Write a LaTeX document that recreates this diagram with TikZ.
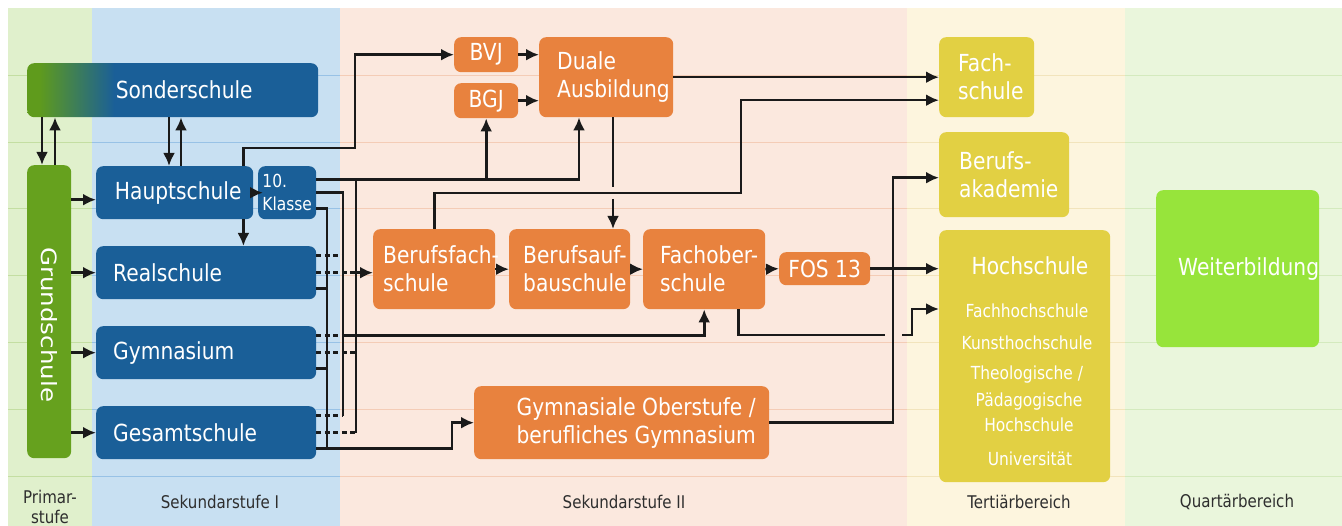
\documentclass[tikz,border=0pt]{standalone}
\usepackage{fontspec}
\usepackage{graphicx}
\setmainfont[FakeStretch=0.86]{DejaVu Sans}
\newfontfamily\plainfont{DejaVu Sans}
\usetikzlibrary{arrows.meta}
\hyphenpenalty=10000 \exhyphenpenalty=10000
\newcommand\fbig{\fontsize{23.5}{28}\selectfont}
\newcommand\fsm{\fontsize{18}{23}\selectfont}
\newcommand\flab{\fontsize{17.5}{20}\selectfont}
\definecolor{primbg}{HTML}{E0F0CC}
\definecolor{sekibg}{HTML}{C8E0F2}
\definecolor{sekiibg}{HTML}{FBE8DE}
\definecolor{tertbg}{HTML}{FDF5DE}
\definecolor{quartbg}{HTML}{EAF6DC}
\definecolor{primln}{HTML}{C4DEA2}
\definecolor{sekiln}{HTML}{98C2E6}
\definecolor{sekiiln}{HTML}{F4CCB6}
\definecolor{tertln}{HTML}{F2E4BC}
\definecolor{quartln}{HTML}{D4EABE}
\definecolor{boxblue}{HTML}{1A5F98}
\definecolor{grgreen}{HTML}{66A11E}
\definecolor{sgreen}{HTML}{5F9B1C}
\definecolor{boxor}{HTML}{E8823E}
\definecolor{boxye}{HTML}{E2D043}
\definecolor{weiter}{HTML}{97E43B}
\definecolor{lncol}{HTML}{1A1A1A}
\definecolor{labcol}{HTML}{2E2E2E}
\pgfdeclarehorizontalshading{sondershade}{100bp}{color(0bp)=(sgreen); color(27bp)=(sgreen); color(40bp)=(boxblue); color(100bp)=(boxblue)}
\begin{document}
\begin{tikzpicture}[x=1pt,y=-1pt,
  box/.style={rounded corners=7pt, inner sep=0pt, text=white, font=\fbig, anchor=north west, align=center},
  bluebox/.style={box, fill=boxblue},
  orbox/.style={box, fill=boxor},
  yebox/.style={box, fill=boxye},
  lefttext/.style 2 args={align=left, inner xsep=#1, text width=#2},
  ln/.style={draw=lncol, line width=2.6pt},
  ar/.style={ln, -{Latex[length=13pt,width=12pt]}},
  stub/.style={ln, dash pattern=on 5pt off 3.5pt},
  lab/.style={text=labcol, font=\flab, align=center, inner sep=0pt},
  hstext/.style={text=white, font=\fsm, inner sep=0pt}]
\useasboundingbox (0,0) rectangle (1342,526);
\fill[white] (0,0) rectangle (1342,526);
% columns
\fill[primbg] (8,8) rectangle (92,526);
\fill[sekibg] (92,8) rectangle (340,526);
\fill[sekiibg] (340,8) rectangle (907,526);
\fill[tertbg] (907,8) rectangle (1125,526);
\fill[quartbg] (1125,8) rectangle (1342,526);
\foreach \yy in {75,142,208,275,342,409,476}{
  \draw[primln, line width=0.8pt] (8,\yy) -- (92,\yy);
  \draw[sekiln, line width=0.8pt] (92,\yy) -- (340,\yy);
  \draw[sekiiln, line width=0.8pt] (340,\yy) -- (907,\yy);
  \draw[tertln, line width=0.8pt] (907,\yy) -- (1125,\yy);
  \draw[quartln, line width=0.8pt] (1125,\yy) -- (1342,\yy);
}
% Primar / Sek I
\node[box, shade, shading=sondershade, minimum width=291pt, minimum height=54pt] (sonder) at (27,63) {\hspace*{23pt}Sonderschule};
\node[box, fill=grgreen, minimum width=44pt, minimum height=293pt] (grund) at (27,165)
  {\rotatebox{-90}{\hspace*{26pt}\scalebox{1}[0.86]{\plainfont\fontsize{24.5}{28}\selectfont Grundschule}}};
\node[bluebox, minimum width=157pt, minimum height=53pt] (haupt) at (96,166) {\hspace*{7pt}Hauptschule};
\node[bluebox, minimum width=58pt, minimum height=53pt, font=\fsm, align=left] (klasse) at (258,166) {10.\\Klasse};
\node[bluebox, minimum width=220pt, minimum height=53pt, lefttext={17pt}{186pt}] (real) at (96,246) {Realschule};
\node[bluebox, minimum width=220pt, minimum height=53pt, lefttext={17pt}{186pt}] (gym) at (96,326) {Gymnasium};
\node[bluebox, minimum width=220pt, minimum height=53pt, lefttext={17pt}{186pt}] (gesamt) at (96,406) {Gesamtschule};
% Sek II
\node[orbox, minimum width=64pt, minimum height=35pt] (bvj) at (454,37) {BVJ};
\node[orbox, minimum width=64pt, minimum height=35pt] (bgj) at (454,83) {BGJ};
\node[orbox, minimum width=134pt, minimum height=80pt, lefttext={18pt}{98pt}] (duale) at (539,37) {Duale\\Ausbildung};
\node[orbox, minimum width=122pt, minimum height=80pt, lefttext={10pt}{102pt}] (bfs) at (373,229) {Berufsfach-\\schule};
\node[orbox, minimum width=121pt, minimum height=80pt, lefttext={14pt}{93pt}] (bas) at (509,229) {Berufsauf-\\bauschule};
\node[orbox, minimum width=122pt, minimum height=80pt, lefttext={17pt}{88pt}] (fos) at (643,229) {Fachober-\\schule};
\node[orbox, minimum width=91pt, minimum height=33pt] (fos13) at (779,252) {FOS 13};
\node[orbox, minimum width=295pt, minimum height=73pt, align=left] (gym2) at (474,386)
  {\hspace*{29pt}Gymnasiale Oberstufe /\\\hspace*{29pt}berufliches Gymnasium};
% Tertiaer
\node[yebox, minimum width=95pt, minimum height=80pt, lefttext={19pt}{57pt}] (fach) at (939,37) {Fach-\\schule};
\node[yebox, minimum width=130pt, minimum height=85pt, lefttext={20pt}{90pt}] (ba) at (939,132) {Berufs-\\akademie};
\node[yebox, minimum width=171pt, minimum height=252pt] (hoch) at (939,230) {};
\node[hstext, font=\fbig] (hT) at (1030,266) {Hochschule};
\node[hstext] (h1) at (1027,311) {Fachhochschule};
\node[hstext] (h2) at (1027,343) {Kunsthochschule};
\node[hstext] (h3) at (1027,375) {Theologische /};
\node[hstext] (h4) at (1029,402) {Pädagogische};
\node[hstext] (h5) at (1029,425) {Hochschule};
\node[hstext] (h6) at (1030,459) {Universität};
% Quartaer
\node[box, fill=weiter, minimum width=151pt, minimum height=157pt] (weiterb) at (1156,190) {\hspace*{22pt}Weiterbildung};
% labels
\node[lab] (l1) at (50,507) {Primar-\\stufe};
\node[lab] (l2) at (220,502) {Sekundarstufe I};
\node[lab] (l3) at (624,502) {Sekundarstufe II};
\node[lab] (l4) at (1019,502) {Tertiärbereich};
\node[lab] (l5) at (1237,502) {Quartärbereich};
% guide coordinates
\coordinate (X327) at (327,0);
\coordinate (X343) at (343,0);
\coordinate (X356) at (356,0);
\coordinate (X452) at (452,0);
\coordinate (X893) at (893,0);
\coordinate (X912) at (912,0);
\coordinate (ra) at ([yshift=17pt]real.east);
\coordinate (rb) at (real.east);
\coordinate (rc) at ([yshift=-16pt]real.east);
\coordinate (ga) at ([yshift=17pt]gym.east);
\coordinate (gb) at (gym.east);
\coordinate (gc) at ([yshift=-16pt]gym.east);
\coordinate (sa) at ([yshift=17pt]gesamt.east);
\coordinate (sb) at (gesamt.east);
\coordinate (sc) at ([yshift=-16pt]gesamt.east);
\coordinate (k1) at ([yshift=13pt]klasse.east);
\coordinate (k2) at (klasse.east);
\coordinate (k3) at ([yshift=-16pt]klasse.east);
\coordinate (hw) at ([yshift=-7pt]haupt.west);
\coordinate (hnorth) at ([xshift=-10pt]haupt.north east);
\coordinate (hsouth) at ([xshift=-10pt]haupt.south east);
\coordinate (jmpA) at (613,187);
\coordinate (jmpB) at (613,199);
\coordinate (jmpC) at (885,335);
\coordinate (jmpD) at (902,335);
\coordinate (hf) at ([yshift=-79pt]hoch.north west);
\coordinate (baw) at ([yshift=-3pt]ba.west);
% Sonderschule links
\draw[ar] ([xshift=15pt]sonder.south west) -- ([xshift=15pt]grund.north west);
\draw[ar] ([xshift=28pt]grund.north west) -- ([xshift=28pt]sonder.south west);
\draw[ar] ([xshift=142pt]sonder.south west) -- ([xshift=73pt]haupt.north west);
\draw[ar] ([xshift=85pt]haupt.north west) -- ([xshift=154pt]sonder.south west);
% Grundschule
\draw[ar] (grund.east |- hw) -- (hw);
\draw[ar] (grund.east |- real.west) -- (real.west);
\draw[ar] (grund.east |- gym.west) -- (gym.west);
\draw[ar] (grund.east |- gesamt.west) -- (gesamt.west);
% Hauptschule
\draw[ar] (haupt.east) -- ([xshift=5pt]klasse.west);
\draw[ar] (hsouth) -- (hsouth |- real.north);
\draw[ar] (hnorth) |- (355,148) |- (bvj.west);
% buses
\draw[ln] (k3) -| (X327 |- sc);
\draw[ln] (k2) -| (X343 |- sa);
\draw[ln] (X356 |- k1) -- (X356 |- sb);
\draw[stub] (ra) -- (X343 |- ra);
\draw[stub] (ga) -- (X343 |- ga);
\draw[stub] (sa) -- (X343 |- sa);
\draw[stub] (rb) -- (X356 |- rb);
\draw[stub] (gb) -- (X356 |- gb);
\draw[stub] (sb) -- (X356 |- sb);
\draw[ln] (rc) -- (X327 |- rc);
\draw[ln] (gc) -- (X327 |- gc);
% outputs of Sek I
\draw[ar] (X356 |- rb) -- (rb -| bfs.west);
\draw[ar] (X343 |- ga) -| (fos.south);
\draw[ar] (sc) -- (X452 |- sc) |- (gym2.west);
\draw[ar] (k1) -| ([xshift=40pt]duale.south west);
\draw[ar] (k1 -| bgj.south) -- (bgj.south);
% Sek II
\draw[ar] (bvj.east) -- (bvj.east -| duale.west);
\draw[ar] (bgj.east) -- (bgj.east -| duale.west);
\draw[ar] (duale.east) -- (duale.east -| fach.west);
\draw[ln] ([xshift=74pt]duale.south west) -- (jmpA);
\draw[ar] (jmpB) -- ([xshift=104pt]bas.north west);
\draw[ar] (bfs.north) |- (741,193) |- ([yshift=-23pt]fach.west);
\draw[ar] (bfs.east) -- (bas.west);
\draw[ar] (bas.east) -- (fos.west);
\draw[ar] (fos.east) -- (fos13.west);
\draw[ar] (fos13.east) -- (fos13.east -| hoch.west);
\draw[ln] ([xshift=-27pt]fos.south east) |- (jmpC);
\draw[ar] (jmpD) -| (X912 |- hf) -- (hf);
\draw[ar] (gym2.east) -| (X893 |- baw) -- (baw);
\end{tikzpicture}
\end{document}
